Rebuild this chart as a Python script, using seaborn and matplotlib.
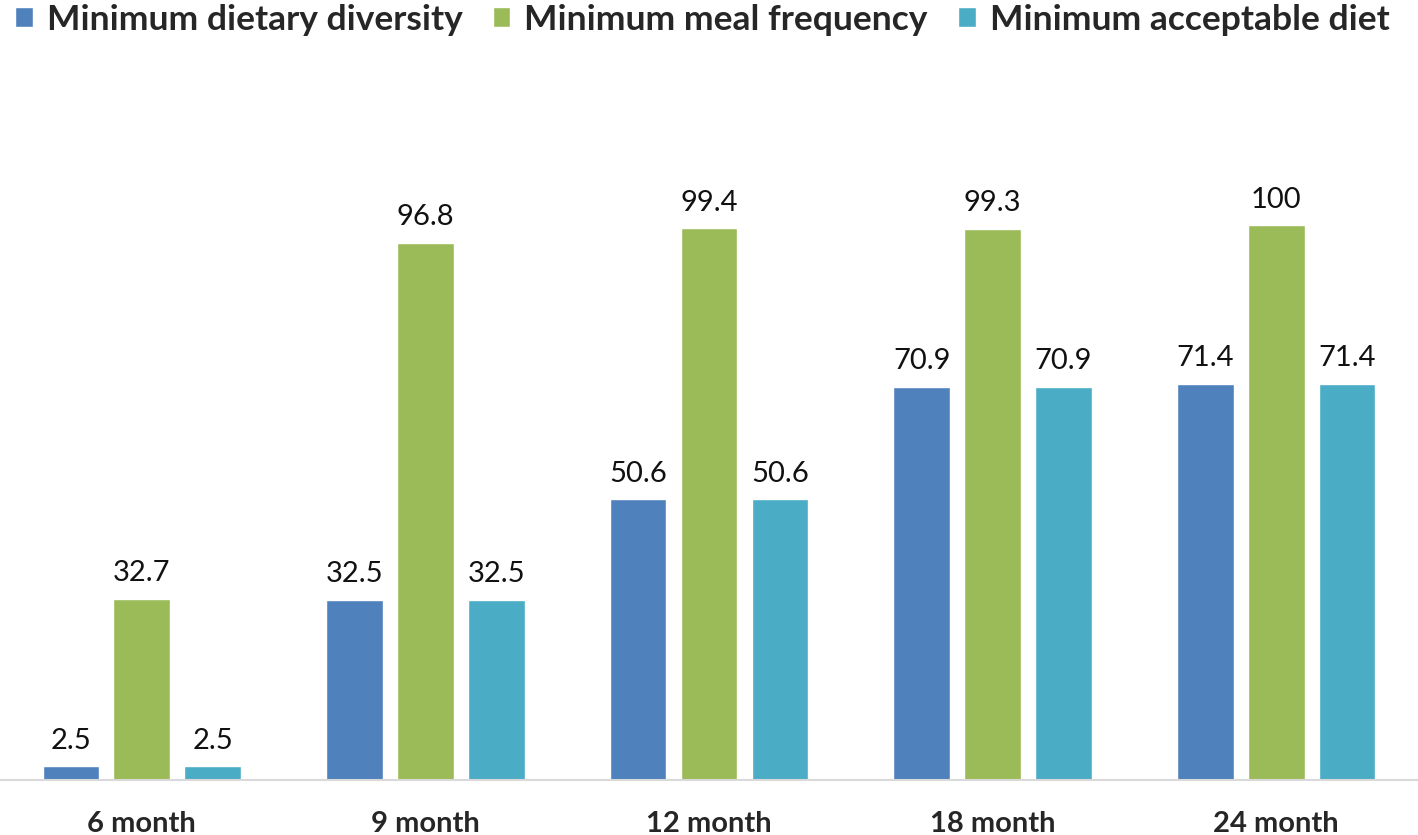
import matplotlib
matplotlib.use("Agg")
import matplotlib.pyplot as plt
import seaborn as sns
import pandas as pd

categories = ["6 month", "9 month", "12 month", "18 month", "24 month"]
series_names = ["Minimum dietary diversity", "Minimum meal frequency", "Minimum acceptable diet"]
dietary_diversity = [2.5, 32.5, 50.6, 70.9, 71.4]
meal_frequency = [32.7, 96.8, 99.4, 99.3, 100]
acceptable_diet = [2.5, 32.5, 50.6, 70.9, 71.4]
colors = ["#4F81BD", "#9BBB59", "#4BACC6"]

rows = []
for name, vals in zip(series_names, [dietary_diversity, meal_frequency, acceptable_diet]):
    for c, v in zip(categories, vals):
        rows.append({"age": c, "series": name, "value": v})
df = pd.DataFrame(rows)

sns.set_style("white")
plt.rcParams["font.family"] = ["Lato", "DejaVu Sans"]

fig = plt.figure(figsize=(14.18, 8.35), dpi=100)
ax = fig.add_axes([0, 55/835, 1, 740/835])
sns.barplot(data=df, x="age", y="value", hue="series", order=categories,
            hue_order=series_names, palette=colors, width=0.75, gap=0.2,
            saturation=1, ax=ax, legend=True, errorbar=None)
ax.set_xlim(-0.5, 4.5)
ax.set_ylim(0, 740/5.55)
for cont in ax.containers:
    ax.bar_label(cont, labels=[f"{v:g}" for v in cont.datavalues], padding=9, fontsize=21, color="#111111")
for s in ["top", "right", "left"]:
    ax.spines[s].set_visible(False)
ax.spines["bottom"].set_color("#D9D9D9")
ax.spines["bottom"].set_linewidth(1.5)
ax.set_yticks([])
ax.set_xlabel("")
ax.set_ylabel("")
ax.tick_params(axis="x", length=0, pad=22, labelsize=21)
for t in ax.get_xticklabels():
    t.set_fontweight("bold")
h, l = ax.get_legend_handles_labels()
ax.get_legend().remove()
fig.legend(h, l, loc="upper left", bbox_to_anchor=(-0.007, 1.025), ncol=3, frameon=False,
           prop={"weight": "bold", "size": 25.5}, handlelength=0.5, handleheight=0.5,
           handletextpad=0.4, columnspacing=0.85, borderaxespad=0.3)
fig.savefig("out.png", dpi=100)
